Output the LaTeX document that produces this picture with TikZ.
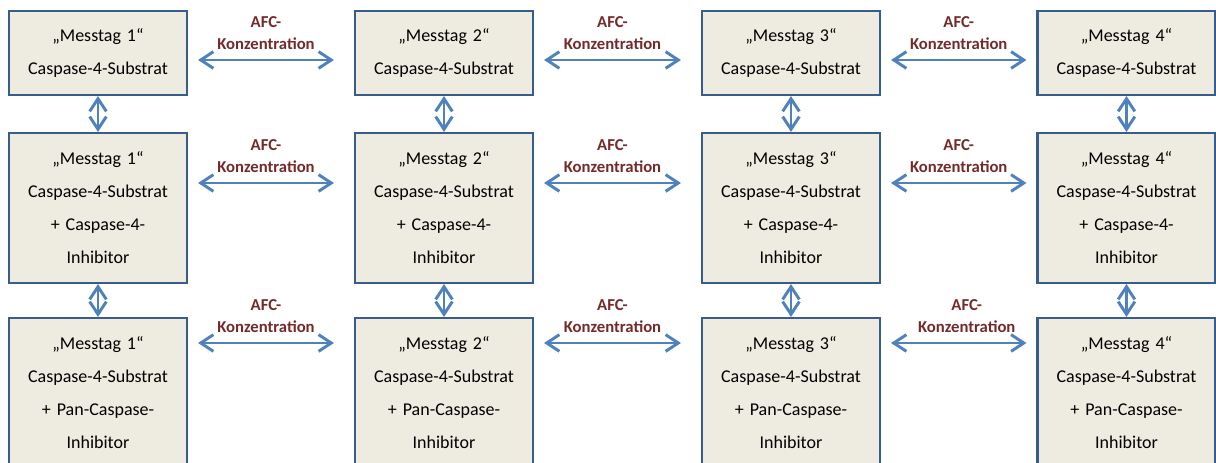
\documentclass[tikz,border=0pt]{standalone}
\usepackage{fontspec}
\setmainfont{Carlito}
\usetikzlibrary{arrows.meta,calc}
\definecolor{tagfill}{HTML}{EEECE1}
\definecolor{tagline}{HTML}{385D8A}
\definecolor{linkblue}{HTML}{4F81BD}
\definecolor{afcred}{HTML}{742A2A}

\begin{document}
\begin{tikzpicture}[x=0.75pt,y=-0.75pt,
    tag/.style={draw=tagline, line width=1.6pt, fill=tagfill, minimum width=133.5pt,
        text width=130pt, align=center, inner sep=0pt,
        font=\fontsize{13.5}{24.75}\selectfont},
    short/.style={tag, minimum height=63pt},
    tall/.style={tag, minimum height=112.5pt},
    link/.style={draw=linkblue, line width=2.2pt,
        {Straight Barb[length=9.5pt,width=12.5pt]}-{Straight Barb[length=9.5pt,width=12.5pt]}},
    afc/.style={above=3pt, text=afcred, align=center,
        font=\bfseries\fontsize{12.5}{16.5}\selectfont}]
            \useasboundingbox (0,0) rectangle (1216,463);

            % obere Reihe: nur Substrat
            \node[short] (s1) at (98,53) {„Messtag 1“\\Caspase-4-Substrat};
            \node[short] (s2) at (444,53) {„Messtag 2“\\Caspase-4-Substrat};
            \node[short] (s3) at (791,53) {„Messtag 3“\\Caspase-4-Substrat};
            \node[short] (s4) at (1126.5,53) {„Messtag 4“\\Caspase-4-Substrat};

            % mittlere Reihe: mit Caspase-4-Inhibitor
            \node[tall] (c1) at (98,208) {„Messtag 1“\\Caspase-4-Substrat\\+ Caspase-4-\\Inhibitor};
            \node[tall] (c2) at (444,208) {„Messtag 2“\\Caspase-4-Substrat\\+ Caspase-4-\\Inhibitor};
            \node[tall] (c3) at (791,208) {„Messtag 3“\\Caspase-4-Substrat\\+ Caspase-4-\\Inhibitor};
            \node[tall] (c4) at (1126.5,208) {„Messtag 4“\\Caspase-4-Substrat\\+ Caspase-4-\\Inhibitor};

            % untere Reihe: mit Pan-Caspase-Inhibitor
            \node[tall] (p1) at (98,393) {„Messtag 1“\\Caspase-4-Substrat\\+ Pan-Caspase-\\Inhibitor};
            \node[tall] (p2) at (444,393) {„Messtag 2“\\Caspase-4-Substrat\\+ Pan-Caspase-\\Inhibitor};
            \node[tall] (p3) at (791,393) {„Messtag 3“\\Caspase-4-Substrat\\+ Pan-Caspase-\\Inhibitor};
            \node[tall] (p4) at (1126.5,393) {„Messtag 4“\\Caspase-4-Substrat\\+ Pan-Caspase-\\Inhibitor};

            \draw[link] ($(s1.east)+(10,7)$) -- node[afc] {AFC-\\Konzentration} ($(s2.west)+(-20,7)$);
            \draw[link] ($(s2.east)+(10,7)$) -- node[afc] {AFC-\\Konzentration} ($(s3.west)+(-20,7)$);
            \draw[link] ($(s3.east)+(10,7)$) -- node[afc] {AFC-\\Konzentration} ($(s4.west)+(-10,7)$);

            \draw[link] ($(c1.east)+(10,-25)$) -- node[afc] {AFC-\\Konzentration} ($(c2.west)+(-20,-25)$);
            \draw[link] ($(c2.east)+(10,-25)$) -- node[afc] {AFC-\\Konzentration} ($(c3.west)+(-20,-25)$);
            \draw[link] ($(c3.east)+(10,-25)$) -- node[afc] {AFC-\\Konzentration} ($(c4.west)+(-10,-25)$);

            \draw[link] ($(p1.east)+(10,-50)$) -- node[afc] {AFC-\\Konzentration} ($(p2.west)+(-20,-50)$);
            \draw[link] ($(p2.east)+(10,-50)$) -- node[afc] {AFC-\\Konzentration} ($(p3.west)+(-20,-50)$);
            \draw[link] ($(p3.east)+(10,-50)$) -- node[afc, xshift=6pt] {AFC-\\Konzentration} ($(p4.west)+(-10,-50)$);

            \draw[link] (s1.south) -- (c1.north);
            \draw[link] (s2.south) -- (c2.north);
            \draw[link] (s3.south) -- (c3.north);
            \draw[link] (s4.south) -- (c4.north);
            \draw[link] (c1.south) -- (p1.north);
            \draw[link] (c2.south) -- (p2.north);
            \draw[link] (c3.south) -- (p3.north);
            \draw[link] (c4.south) -- (p4.north);
        \end{tikzpicture}
\end{document}
